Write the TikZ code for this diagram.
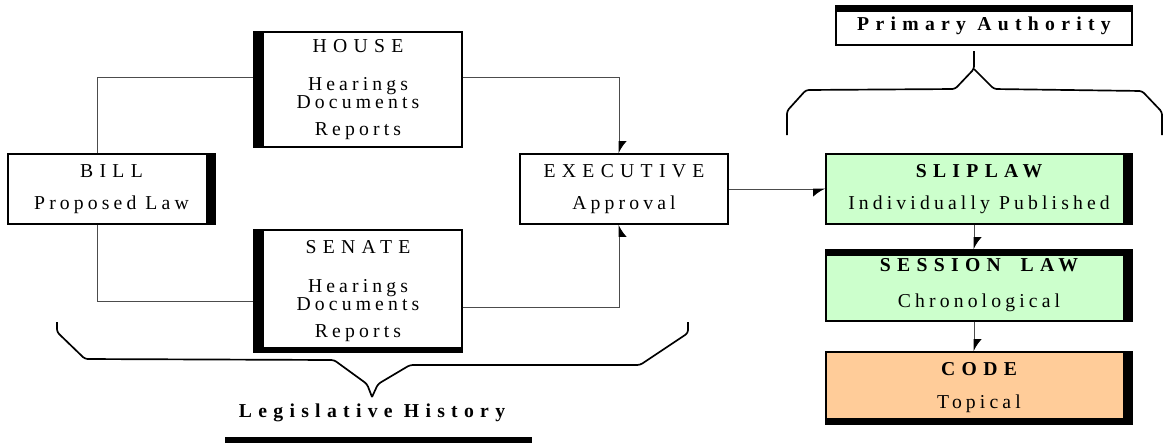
\documentclass[tikz,border=0pt]{standalone}
\usepackage{fontspec}
\setmainfont{Liberation Serif}
\newfontfamily\spacedfont{Liberation Serif}[LetterSpace=21]
\newfontfamily\titlefont{Liberation Serif}[LetterSpace=32]
\usepackage{xcolor}
\usepackage{tikz}
\usetikzlibrary{arrows.meta}

\definecolor{slipgreen}{HTML}{CCFFCC}
\definecolor{codeorange}{HTML}{FFCC99}

\begin{document}
\begin{tikzpicture}[x=0.025cm, y=-0.025cm, every text node part/.style={align=center},
  font=\fontsize{14}{17}\selectfont\spacedfont,
  frame/.style={draw, line width=1pt, inner sep=0pt, minimum width=5.2cm, minimum height=1.75cm},
  link/.style={draw=black!70, line width=0.6pt},
  tip/.style={-{Latex[length=8pt, width=11pt, harpoon, color=black]}},
  pitsw/.style={-{Latex[length=8pt, width=11pt, harpoon, swap, color=black]}},
  brace line/.style={line width=1.2pt, rounded corners=2pt}]
\useasboundingbox (0,0) rectangle (1169,443);

\node (house) [frame, minimum height=2.875cm] at (358,89.5) {{\titlefont HOUSE}\\[10.6pt]Hearings\\[-4.2pt]Documents\\[2pt]Reports};
\node (bill) [frame, minimum width=5.175cm] at (111.5,189) {{\titlefont BILL}\\[5.7pt]Proposed Law};
\node (senate) [frame, minimum height=3.05cm] at (358,291) {{\titlefont SENATE}\\[10.6pt]Hearings\\[-4.2pt]Documents\\[2pt]Reports};
\node (executive) [frame] at (624,189) {{\titlefont EXECUTIVE}\\[5.7pt]Approval};

\node (slip law) [frame, fill=slipgreen, minimum width=7.65cm] at (979,189) {{\titlefont\bfseries SLIPLAW}\\[5.7pt]Individually Published};
\node (session law) [frame, fill=slipgreen, minimum width=7.65cm, minimum height=1.775cm] at (979,285.5) {{\titlefont\bfseries SESSION\quad LAW}\\[8.5pt]Chronological};
\node (code) [frame, fill=codeorange, minimum width=7.65cm, minimum height=1.8cm] at (979,388) {{\titlefont\bfseries CODE}\\[6.4pt]Topical};

\node (primary authority) [frame, minimum width=7.4cm, minimum height=0.975cm] at (984,25.5) {\titlefont\bfseries Primary Authority};
\node (legislative history) at (372,413) {\titlefont\bfseries Legislative History};

% heavy edges
\fill (house.north west) rectangle ([xshift=0.275cm]house.south west);
\fill (senate.north west) rectangle ([xshift=0.275cm]senate.south west);
\fill ([yshift=0.15cm]senate.south west) rectangle (senate.south east);
\fill ([xshift=-0.25cm]bill.north east) rectangle (bill.south east);
\fill ([xshift=-0.25cm]slip law.north east) rectangle (slip law.south east);
\fill (session law.north west) rectangle ([yshift=-0.175cm]session law.north east);
\fill ([xshift=-0.25cm]session law.north east) rectangle (session law.south east);
\fill ([xshift=-0.25cm]code.north east) rectangle (code.south east);
\fill ([yshift=0.175cm]code.south west) rectangle (code.south east);
\fill (primary authority.north west) rectangle ([yshift=-0.175cm]primary authority.north east);
\fill (225,437) rectangle (532,443);

% connectors
\draw [link] ([xshift=-0.35cm]bill.north) |- ([yshift=0.31cm]house.west);
\draw [link] ([xshift=-0.35cm]bill.south) |- ([yshift=-0.25cm]senate.west);
\draw [link, tip] ([yshift=0.31cm]house.east) -| ([xshift=-0.125cm]executive.north);
\draw [link, pitsw] ([yshift=-0.4cm]senate.east) -| ([xshift=-0.125cm]executive.south);
\draw [link, pitsw] (executive.east) -- (slip law.west);
\draw [link, tip] ([xshift=-0.125cm]slip law.south) -- ([xshift=-0.125cm]session law.north);
\draw [link, tip] ([xshift=-0.125cm]session law.south) -- ([xshift=-0.125cm]code.north);

% braces
\draw [brace line] (787,135) -- (787,111) -- (806,90) -- (955,89) -- (974,69) -- (974,51);
\draw [brace line] (974,69) -- (994,89) -- (1142,91) -- (1162,112) -- (1162,135);
\draw [brace line] (57,322) -- (57,332) -- (85,359) -- (334,360) -- (367,384) -- (372,397);
\draw [brace line] (372,397) -- (378,384) -- (410,365) -- (640,365) -- (688,333) -- (688,322);

\end{tikzpicture}
\end{document}
